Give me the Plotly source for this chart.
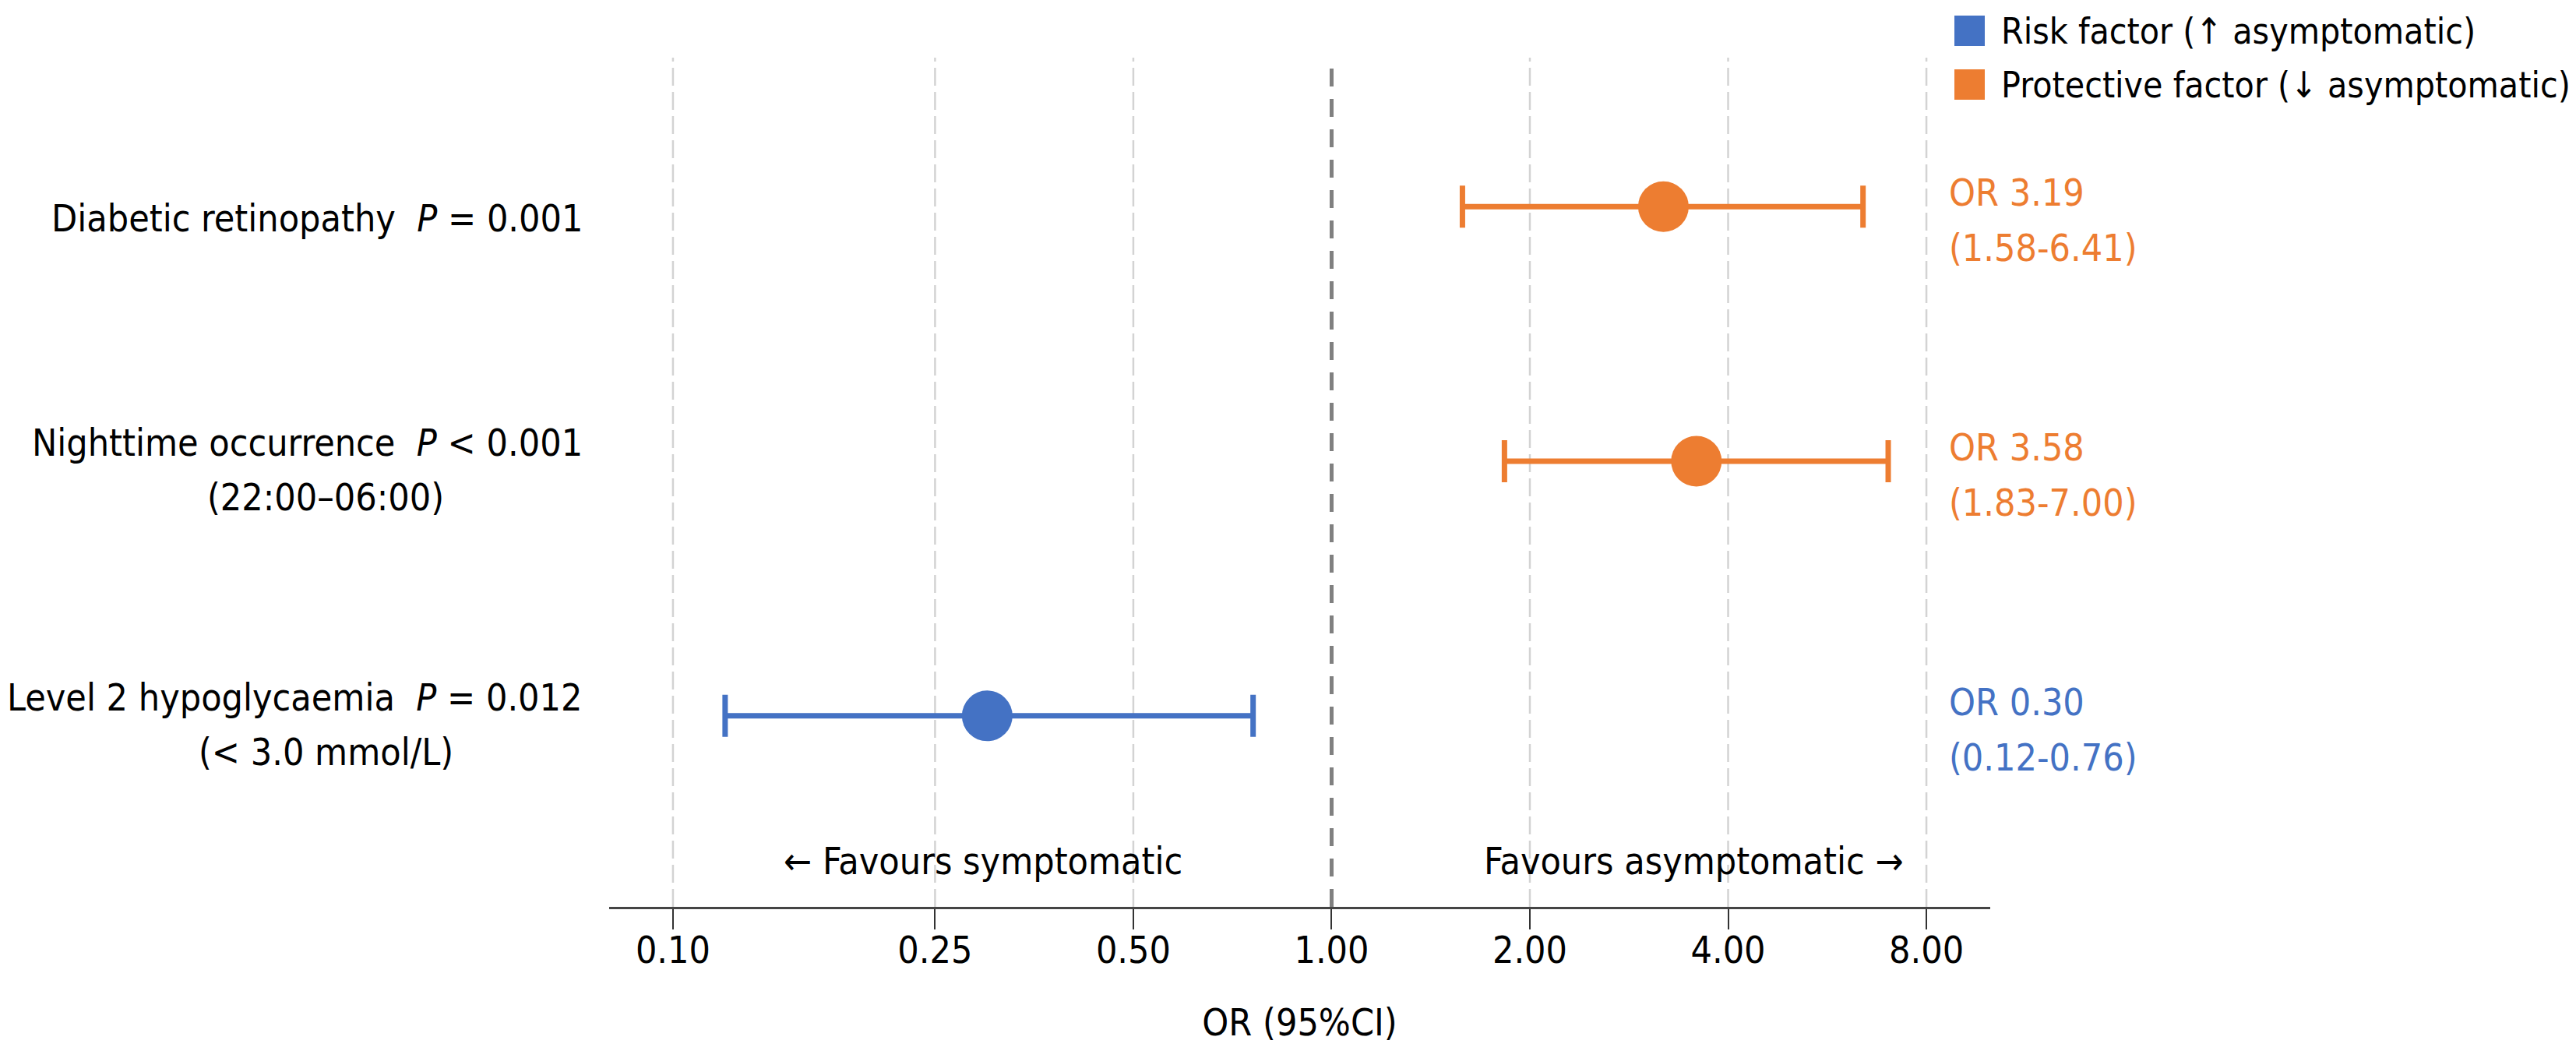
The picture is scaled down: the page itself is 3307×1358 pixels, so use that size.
import math
import plotly.graph_objects as go

# forest plot: multivariable OR for asymptomatic hypoglycaemia

factors = ["Diabetic retinopathy", "Nighttime occurrence", "Level 2 hypoglycaemia"]
sub_labels = ["", "(22:00–06:00)", "(< 3.0 mmol/L)"]
p_values = ["= 0.001", "< 0.001", "= 0.012"]
or_vals = [3.19, 3.58, 0.30]
ci_low = [1.58, 1.83, 0.12]
ci_high = [6.41, 7.00, 0.76]
groups = ["Protective", "Protective", "Risk"]

tick_vals = [0.10, 0.25, 0.50, 1.00, 2.00, 4.00, 8.00]
tick_text = ["0.10", "0.25", "0.50", "1.00", "2.00", "4.00", "8.00"]

legend_names = {
    "Risk": "Risk factor (↑ asymptomatic)",
    "Protective": "Protective factor (↓ asymptomatic)",
}
colors = {"Risk": "#4472C4", "Protective": "#ED7D31"}

FONT = "DejaVu Sans Condensed, Liberation Sans, Arial, sans-serif"
FS = 48

# the page body has an 8px margin, so the figure is 8px smaller
OFF = 8
W, H = 3307 - OFF, 1358 - OFF
ML, MR, MT, MB = 782 - OFF, 752, 74 - OFF, 194

rows = list(range(len(factors)))[::-1]  # top row first

fig = go.Figure()

for g in ["Risk", "Protective"]:
    idx = [i for i in range(len(factors)) if groups[i] == g]
    fig.add_trace(go.Scatter(
        x=[or_vals[i] for i in idx],
        y=[rows[i] for i in idx],
        mode="markers",
        marker=dict(size=65, color=colors[g], line=dict(width=0)),
        error_x=dict(
            type="data",
            symmetric=False,
            array=[ci_high[i] - or_vals[i] for i in idx],
            arrayminus=[or_vals[i] - ci_low[i] for i in idx],
            color=colors[g],
            thickness=7,
            width=27,
        ),
        showlegend=False,
        hoverinfo="skip",
    ))

# light dashed grid (not at 1.00, that one is the reference line)
for v in tick_vals:
    if v == 1.0:
        continue
    fig.add_shape(type="line", xref="x", yref="paper",
                  x0=v, x1=v, y0=0, y1=1,
                  line=dict(color="#d3d3d3", width=2.5, dash="23px,8px"),
                  layer="below")

# null line at OR = 1
fig.add_shape(type="line", xref="x", yref="paper", x0=1, x1=1, y0=0, y1=1,
              line=dict(color="#808080", width=5, dash="23px,16px"),
              layer="above")

# left labels
for i, name in enumerate(factors):
    first = f"{name}\u00a0 <i>P</i> {p_values[i]}"
    two = bool(sub_labels[i])
    fig.add_annotation(x=0, xref="paper", y=rows[i], yref="y",
                       text=first, showarrow=False, xanchor="right",
                       yanchor="middle", xshift=-32, yshift=24 if two else -15,
                       font=dict(family=FONT, size=FS, color="black"))
    if two:
        fig.add_annotation(x=0, xref="paper", y=rows[i], yref="y",
                           text=sub_labels[i], showarrow=False,
                           xanchor="center", yanchor="middle",
                           xshift=-364, yshift=-46,
                           font=dict(family=FONT, size=FS, color="black"))

# right OR labels
for i in range(len(factors)):
    c = colors[groups[i]]
    for txt, ys in [(f"OR {or_vals[i]:.2f}", 18),
                    (f"({ci_low[i]:.2f}-{ci_high[i]:.2f})", -53)]:
        fig.add_annotation(x=math.log10(8.6), xref="x", y=rows[i], yref="y",
                           text=txt, showarrow=False, xanchor="left",
                           yanchor="middle", yshift=ys,
                           font=dict(family=FONT, size=FS, color=c))

# favours labels
fig.add_annotation(x=math.log10(0.296), y=-0.569, text="← Favours symptomatic",
                   showarrow=False, xanchor="center", yanchor="middle",
                   font=dict(family=FONT, size=FS, color="black"))
fig.add_annotation(x=math.log10(3.55), y=-0.569, text="Favours asymptomatic →",
                   showarrow=False, xanchor="center", yanchor="middle",
                   font=dict(family=FONT, size=FS, color="black"))

# legend drawn by hand (big square swatches), positions in screen px
pw, ph = W - ML - MR, H - MT - MB


def px_x(p):
    return (p - OFF - ML) / pw


def px_y(p):
    return (H - MB - (p - OFF)) / ph


for k, g in enumerate(["Risk", "Protective"]):
    top = 20 + k * 69
    fig.add_shape(type="rect", xref="paper", yref="paper",
                  x0=px_x(2509), x1=px_x(2548), y0=px_y(top + 39), y1=px_y(top),
                  fillcolor=colors[g], line=dict(width=0))
    fig.add_annotation(x=px_x(2567), xref="paper", y=px_y(top + 19.5), yref="paper",
                       text=legend_names[g], showarrow=False, xanchor="left",
                       yanchor="middle",
                       font=dict(family=FONT, size=46, color="black"))

fig.update_xaxes(
    type="log",
    range=[math.log10(0.08), 1],
    tickvals=tick_vals,
    ticktext=tick_text,
    ticks="outside",
    ticklen=26,
    tickwidth=2,
    tickcolor="#333333",
    ticklabelstandoff=-15,
    showline=True,
    linecolor="#444444",
    linewidth=3,
    showgrid=False,
    tickfont=dict(family=FONT, size=FS, color="black"),
    title=dict(text="OR (95%CI)", font=dict(family=FONT, size=FS, color="black"),
               standoff=50),
)
fig.update_yaxes(range=[-0.75, 2.585], visible=False)

fig.update_layout(
    width=W, height=H,
    margin=dict(l=ML, r=MR, t=MT, b=MB, autoexpand=False),
    plot_bgcolor="white",
    paper_bgcolor="white",
    showlegend=False,
    font=dict(family=FONT, size=FS, color="black"),
)

fig.write_html("out.html")
